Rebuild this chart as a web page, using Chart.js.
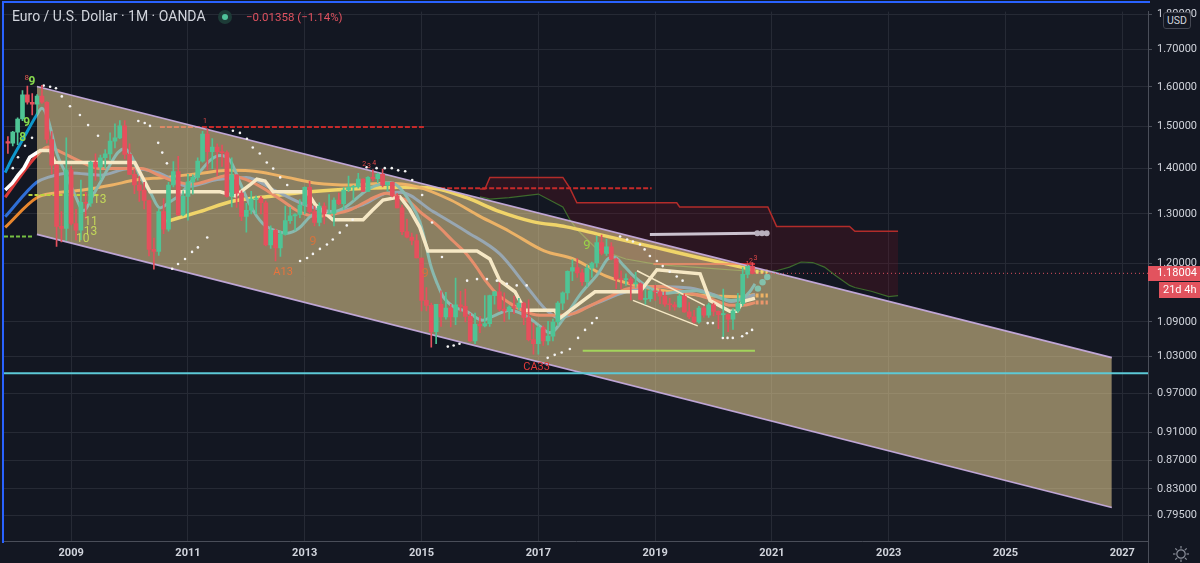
<!DOCTYPE html>
<html><head><meta charset="utf-8">
<script src="https://cdn.jsdelivr.net/npm/chart.js@4.4.0/dist/chart.umd.min.js"></script>
<style>
html,body{margin:0;padding:0;background:#131722;overflow:hidden;}
#wrap{position:relative;width:1200px;height:563px;background:#131722;}
canvas{display:block;position:absolute;left:0;top:0;}
#frame{position:absolute;left:2px;top:1px;width:1146px;height:540px;border-left:2px solid #2962ff;border-top:2px solid #2962ff;pointer-events:none;}
#ttl{position:absolute;left:12px;top:8px;font:14px Roboto,'Open Sans',sans-serif;color:#d1d4dc;white-space:nowrap;}
#dot{position:absolute;left:218px;top:10px;width:14px;height:14px;border-radius:50%;background:#1d3b37;}
#dot i{position:absolute;left:4px;top:4px;width:6px;height:6px;border-radius:50%;background:#4fc39a;}
#chg{position:absolute;left:246px;top:10px;font:11.5px Roboto,'Open Sans',sans-serif;color:#e0525f;white-space:nowrap;}
#usd{position:absolute;left:1163px;top:12px;width:26px;height:15px;border:1px solid #434651;border-radius:3px;background:#131722;font:10.5px Roboto,sans-serif;color:#d1d4dc;text-align:center;line-height:15px;}
#gear{position:absolute;left:1172px;top:545px;}
</style></head><body>
<div id="wrap">
<canvas id="c" width="1200" height="563"></canvas>
<div id="frame"></div>
<div id="ttl">Euro / U.S. Dollar · 1M · OANDA</div>
<div id="dot"><i></i></div>
<div id="chg">−0.01358 (−1.14%)</div>
<div id="usd">USD</div>
<svg id="gear" width="18" height="18" viewBox="0 0 18 18"><circle cx="9" cy="9" r="4.2" fill="none" stroke="#8a8e99" stroke-width="1.2"/><g stroke="#8a8e99" stroke-width="1.2"><line x1="9" y1="1" x2="9" y2="3.5"/><line x1="9" y1="14.5" x2="9" y2="17"/><line x1="1" y1="9" x2="3.5" y2="9"/><line x1="14.5" y1="9" x2="17" y2="9"/><line x1="3.3" y1="3.3" x2="5.1" y2="5.1"/><line x1="12.9" y1="12.9" x2="14.7" y2="14.7"/><line x1="3.3" y1="14.7" x2="5.1" y2="12.9"/><line x1="12.9" y1="5.1" x2="14.7" y2="3.3"/></g></svg>
</div>
<script>
// ---------- tick labels ----------
const yTickValues = [0.795,0.83,0.87,0.91,0.97,1.03,1.09,1.2,1.3,1.4,1.5,1.6,1.7,1.8];
const xTickYears = [2009,2011,2013,2015,2017,2019,2021,2023,2025,2027];
const lastPrice = 1.18004;
const firstCandle = 2007 + 11/12; // Dec 2007, monthly bars

// ---------- monthly OHLC (Dec 2007 .. Sep 2020) ----------
const opens = [1.4630,
1.4590,1.4860,1.5180,1.5790,1.5600,1.5550,1.5760,1.5600,1.4680,1.4080,1.2740,1.2700,
1.3970,1.2800,1.2660,1.3250,1.3230,1.4150,1.4030,1.4250,1.4340,1.4640,1.4720,1.5010,
1.4330,1.3870,1.3630,1.3510,1.3290,1.2270,1.2230,1.3050,1.2680,1.3630,1.3930,1.2980,
1.3380,1.3700,1.3800,1.4170,1.4810,1.4390,1.4500,1.4390,1.4370,1.3380,1.3860,1.3450,
1.2950,1.3080,1.3320,1.3340,1.3240,1.2360,1.2660,1.2300,1.2580,1.2860,1.2960,1.2990,
1.3190,1.3580,1.3050,1.2820,1.3170,1.3000,1.3010,1.3300,1.3220,1.3520,1.3580,1.3590,
1.3760,1.3490,1.3800,1.3770,1.3870,1.3630,1.3690,1.3390,1.3130,1.2630,1.2520,1.2450,
1.2100,1.1290,1.1200,1.0730,1.1220,1.0990,1.1150,1.0990,1.1210,1.1180,1.1000,1.0570,
1.0860,1.0830,1.0870,1.1380,1.1450,1.1130,1.1100,1.1170,1.1160,1.1240,1.0980,1.0590,
1.0520,1.0800,1.0570,1.0650,1.0900,1.1240,1.1430,1.1840,1.1910,1.1810,1.1640,1.1900,
1.2000,1.2410,1.2190,1.2320,1.2080,1.1690,1.1680,1.1690,1.1600,1.1600,1.1310,1.1320,
1.1470,1.1450,1.1370,1.1220,1.1210,1.1170,1.1370,1.1080,1.0990,1.0900,1.1150,1.1020,
1.1210,1.1090,1.1030,1.1030,1.0950,1.1100,1.1230,1.1780,1.1936];
const highs = [1.4750,
1.4880,1.5210,1.5900,1.6020,1.5820,1.5800,1.6040,1.5620,1.4870,1.4100,1.3050,1.4720,
1.4050,1.3100,1.3740,1.3470,1.4170,1.4340,1.4310,1.4440,1.4840,1.5060,1.5140,1.5140,
1.4580,1.3990,1.3820,1.3690,1.3300,1.2500,1.3110,1.3330,1.3690,1.4160,1.4280,1.3500,
1.3870,1.3860,1.4250,1.4880,1.4940,1.4700,1.4580,1.4550,1.4410,1.4250,1.3860,1.3500,
1.3230,1.3490,1.3390,1.3380,1.3280,1.2750,1.2690,1.2640,1.3170,1.3140,1.3010,1.3310,
1.3590,1.3710,1.3170,1.3240,1.3240,1.3420,1.3350,1.3450,1.3570,1.3830,1.3620,1.3890,
1.3770,1.3820,1.3970,1.3900,1.3990,1.3680,1.3700,1.3440,1.3190,1.2890,1.2600,1.2570,
1.2100,1.1530,1.1240,1.1210,1.1470,1.1440,1.1220,1.1710,1.1460,1.1500,1.1050,1.1060,
1.1000,1.1380,1.1390,1.1460,1.1620,1.1430,1.1190,1.1370,1.1330,1.1260,1.1300,1.0880,
1.0830,1.0830,1.0910,1.0950,1.1270,1.1450,1.1850,1.2070,1.2090,1.1880,1.1960,1.2020,
1.2540,1.2560,1.2480,1.2410,1.2100,1.1850,1.1790,1.1730,1.1820,1.1620,1.1500,1.1490,
1.1570,1.1490,1.1450,1.1330,1.1260,1.1410,1.1410,1.1250,1.1110,1.1180,1.1180,1.1240,
1.1240,1.1100,1.1500,1.1040,1.1140,1.1420,1.1910,1.1970,1.2011];
const lows = [1.4350,
1.4530,1.4560,1.5140,1.5550,1.5280,1.5300,1.5570,1.4590,1.3880,1.2330,1.2420,1.2450,
1.2770,1.2460,1.2460,1.2890,1.3160,1.3740,1.3750,1.4010,1.4200,1.4480,1.4700,1.4220,
1.3860,1.3440,1.3270,1.3110,1.2140,1.1880,1.2150,1.2590,1.2640,1.3590,1.2970,1.2960,
1.2870,1.3430,1.3740,1.4150,1.3970,1.4000,1.3840,1.4050,1.3360,1.3150,1.3140,1.2860,
1.2620,1.3000,1.3000,1.3000,1.2340,1.2290,1.2040,1.2130,1.2560,1.2800,1.2660,1.2920,
1.3000,1.3020,1.2750,1.2750,1.2790,1.3000,1.2750,1.3200,1.3100,1.3480,1.3300,1.3560,
1.3480,1.3480,1.3720,1.3680,1.3590,1.3500,1.3370,1.3130,1.2570,1.2500,1.2360,1.2100,
1.1100,1.1100,1.0460,1.0520,1.0820,1.0950,1.0810,1.0850,1.1090,1.0900,1.0560,1.0520,
1.0710,1.0810,1.0820,1.1220,1.1100,1.0910,1.0950,1.1050,1.1120,1.0850,1.0570,1.0340,
1.0340,1.0490,1.0500,1.0570,1.0840,1.1120,1.1310,1.1660,1.1720,1.1570,1.1550,1.1720,
1.1920,1.2160,1.2150,1.2060,1.1510,1.1510,1.1570,1.1300,1.1530,1.1300,1.1220,1.1270,
1.1290,1.1230,1.1180,1.1110,1.1110,1.1160,1.1070,1.0960,1.0880,1.0880,1.0980,1.0980,
1.1010,1.0780,1.0640,1.0730,1.0770,1.1070,1.1190,1.1710,1.1790];
const closes = [1.4590,
1.4860,1.5180,1.5790,1.5600,1.5550,1.5760,1.5600,1.4680,1.4080,1.2740,1.2700,1.3970,
1.2800,1.2660,1.3250,1.3230,1.4150,1.4030,1.4250,1.4340,1.4640,1.4720,1.5010,1.4330,
1.3870,1.3630,1.3510,1.3290,1.2270,1.2230,1.3050,1.2680,1.3630,1.3930,1.2980,1.3380,
1.3700,1.3800,1.4170,1.4810,1.4390,1.4500,1.4390,1.4370,1.3380,1.3860,1.3450,1.2950,
1.3080,1.3320,1.3340,1.3240,1.2360,1.2660,1.2300,1.2580,1.2860,1.2960,1.2990,1.3190,
1.3580,1.3050,1.2820,1.3170,1.3000,1.3010,1.3300,1.3220,1.3520,1.3580,1.3590,1.3760,
1.3490,1.3800,1.3770,1.3870,1.3630,1.3690,1.3390,1.3130,1.2630,1.2520,1.2450,1.2100,
1.1290,1.1200,1.0730,1.1220,1.0990,1.1150,1.0990,1.1210,1.1180,1.1000,1.0570,1.0860,
1.0830,1.0870,1.1380,1.1450,1.1130,1.1100,1.1170,1.1160,1.1240,1.0980,1.0590,1.0520,
1.0800,1.0570,1.0650,1.0900,1.1240,1.1430,1.1840,1.1910,1.1810,1.1640,1.1900,1.2000,
1.2410,1.2190,1.2320,1.2080,1.1690,1.1680,1.1690,1.1600,1.1600,1.1310,1.1320,1.1470,
1.1450,1.1370,1.1220,1.1210,1.1170,1.1370,1.1080,1.0990,1.0900,1.1150,1.1020,1.1210,
1.1090,1.1030,1.1030,1.0950,1.1100,1.1230,1.1780,1.1936,1.18004];

// ---------- moving averages ----------
const fastT = [2007.87,2008.0,2008.2,2008.41,2008.5,2008.6,2008.75,2008.9,2009.05,2009.22,2009.35,2009.5,2009.65,2009.8,2009.92,2010.05,2010.17,2010.35,2010.52,2010.69,2010.86,2011.03,2011.2,2011.38,2011.55,2011.72,2011.89,2012.06,2012.28,2012.5,2012.7,2012.9,2013.1,2013.3,2013.5,2013.7,2013.9,2014.1,2014.3,2014.48,2014.63,2014.8,2014.97,2015.06,2015.15,2015.27,2015.37,2015.54,2015.77,2016.05,2016.22,2016.51,2016.8,2017.02,2017.2,2017.46,2017.73,2018.02,2018.19,2018.3,2018.47,2018.64,2018.86,2019.15,2019.42,2019.7,2020.0,2020.3,2020.5,2020.62,2020.71];
const fastV = [1.391,1.426,1.475,1.528,1.545,1.519,1.437,1.391,1.345,1.307,1.335,1.369,1.405,1.437,1.446,1.424,1.385,1.348,1.313,1.326,1.341,1.367,1.392,1.419,1.430,1.419,1.369,1.320,1.28,1.265,1.26,1.27,1.295,1.305,1.305,1.315,1.335,1.355,1.365,1.368,1.356,1.326,1.284,1.244,1.198,1.160,1.136,1.118,1.109,1.093,1.100,1.111,1.100,1.083,1.071,1.100,1.142,1.179,1.208,1.212,1.194,1.174,1.155,1.142,1.145,1.147,1.138,1.129,1.133,1.145,1.160];
const midT = [2007.87,2008.41,2008.6,2008.8,2009.1,2009.5,2009.9,2010.2,2010.5,2010.8,2011.1,2011.4,2011.7,2012.0,2012.3,2012.6,2012.9,2013.2,2013.5,2013.8,2014.1,2014.4,2014.63,2014.8,2014.97,2015.26,2015.54,2015.77,2015.94,2016.11,2016.28,2016.51,2016.73,2017.02,2017.31,2017.6,2017.9,2018.2,2018.5,2018.8,2019.1,2019.4,2019.7,2020.0,2020.3,2020.5,2020.71];
const midV = [1.336,1.43,1.45,1.44,1.42,1.40,1.40,1.40,1.385,1.37,1.365,1.375,1.385,1.375,1.355,1.33,1.305,1.295,1.30,1.31,1.33,1.345,1.335,1.326,1.305,1.277,1.244,1.218,1.192,1.164,1.142,1.124,1.111,1.102,1.102,1.105,1.12,1.135,1.15,1.155,1.155,1.148,1.14,1.13,1.12,1.12,1.125];
const slowT = [2007.87,2008.41,2008.6,2009.0,2009.5,2010.0,2010.5,2011.0,2011.5,2012.0,2012.5,2013.0,2013.5,2014.0,2014.4,2014.63,2015.2,2015.77,2016.34,2016.8,2017.14,2017.37,2017.7,2018.0,2018.5,2019.0,2019.6,2020.0,2020.3,2020.71];
const slowV = [1.294,1.369,1.38,1.39,1.385,1.40,1.39,1.36,1.375,1.38,1.35,1.32,1.305,1.32,1.345,1.347,1.305,1.263,1.218,1.155,1.111,1.097,1.111,1.124,1.145,1.155,1.152,1.14,1.127,1.14];
const longT = [2007.87,2008.41,2008.7,2009.2,2009.7,2010.1,2010.6,2011.2,2011.7,2012.2,2012.7,2013.2,2013.8,2014.4,2014.9,2015.5,2016.0,2016.5,2017.1,2017.6,2018.15,2018.75,2019.3,2019.85,2020.45,2020.71];
const longV = [1.272,1.335,1.345,1.352,1.363,1.374,1.38,1.389,1.396,1.393,1.38,1.367,1.363,1.367,1.36,1.33,1.295,1.264,1.224,1.208,1.175,1.155,1.145,1.138,1.136,1.14];
const yellowT = [2010.63,2011.2,2011.78,2012.35,2012.9,2013.5,2014.1,2014.63,2015.2,2015.77,2016.34,2016.9,2017.48,2018.05,2019.0,2019.7,2020.4,2020.71];
const yellowV = [1.284,1.305,1.328,1.337,1.346,1.352,1.356,1.358,1.356,1.335,1.305,1.284,1.273,1.257,1.231,1.212,1.194,1.186];
const baseT = [2007.87,2007.99,2008.09,2008.19,2008.29,2008.47,2008.64,2008.72,2010.09,2010.35,2011.55,2011.81,2012.06,2012.18,2012.32,2012.46,2013.04,2013.18,2013.48,2014.0,2014.15,2014.34,2014.63,2014.8,2014.97,2015.11,2015.95,2016.17,2016.34,2016.6,2016.77,2017.28,2017.37,2017.71,2017.97,2018.74,2019.03,2019.77,2019.94,2020.28,2020.4,2020.5,2020.71];
const baseV = [1.352,1.367,1.385,1.401,1.426,1.442,1.442,1.414,1.414,1.348,1.348,1.339,1.363,1.376,1.372,1.348,1.348,1.320,1.288,1.288,1.307,1.330,1.337,1.309,1.272,1.224,1.224,1.208,1.166,1.145,1.111,1.111,1.097,1.124,1.145,1.145,1.187,1.179,1.129,1.109,1.109,1.127,1.133];

// ---------- ichimoku cloud ----------
const cloudT = [2016.0,2016.086,2016.17,2016.5,2017.0,2017.42,2017.54,2017.66,2018.0,2018.5,2019.0,2019.37,2019.42,2020.0,2020.5,2020.93,2021.08,2021.3,2021.5,2021.7,2021.9,2022.1,2022.33,2022.42,2022.7,2023.0,2023.16];
const spanB = [1.354,1.354,1.380,1.380,1.380,1.380,1.356,1.324,1.324,1.324,1.324,1.324,1.315,1.315,1.315,1.315,1.274,1.274,1.274,1.274,1.274,1.274,1.274,1.264,1.264,1.264,1.264];
const spanA = [1.337,1.335,1.332,1.335,1.343,1.315,1.288,1.268,1.228,1.208,1.198,1.194,1.194,1.189,1.185,1.183,1.185,1.192,1.202,1.201,1.192,1.175,1.157,1.153,1.146,1.136,1.138];

// ---------- parabolic SAR ----------
const sarT = [2008.0,2008.09,2008.21,2008.33,2008.53,2008.64,2008.74,2008.84,2008.98,2009.15,2009.29,2009.46,2010.15,2010.26,2010.35,2010.49,2010.56,2010.64,2010.73,2010.83,2010.95,2011.07,2011.17,2011.33,2011.77,2011.89,2012.01,2012.11,2012.23,2012.35,2012.46,2012.58,2012.7,2012.92,2013.04,2013.14,2013.26,2013.38,2013.48,2013.6,2013.72,2013.82,2014.06,2014.23,2014.37,2014.49,2014.6,2014.72,2014.84,2015.01,2015.18,2015.35,2015.45,2015.55,2015.65,2015.78,2015.95,2016.12,2016.29,2016.46,2016.63,2016.8,2017.16,2017.28,2017.4,2017.54,2017.68,2017.8,2017.92,2018.0,2018.4,2018.52,2018.62,2018.74,2018.82,2018.91,2019.03,2019.13,2019.25,2019.37,2019.47,2019.9,2019.99,2020.16,2020.24,2020.33,2020.49,2020.57,2020.66];
const sarV = [1.401,1.426,1.453,1.472,1.603,1.600,1.596,1.575,1.550,1.528,1.503,1.477,1.513,1.508,1.501,1.460,1.437,1.412,1.189,1.198,1.208,1.222,1.231,1.251,1.489,1.484,1.470,1.449,1.435,1.414,1.400,1.380,1.363,1.204,1.210,1.218,1.228,1.237,1.247,1.261,1.276,1.288,1.403,1.401,1.401,1.401,1.396,1.394,1.374,1.341,1.282,1.212,1.047,1.049,1.052,1.166,1.169,1.169,1.166,1.160,1.157,1.157,1.028,1.033,1.037,1.043,1.062,1.076,1.088,1.097,1.253,1.247,1.243,1.237,1.227,1.214,1.204,1.194,1.183,1.174,1.166,1.088,1.088,1.062,1.062,1.062,1.065,1.070,1.076];

// ---------- drawings ----------
const channelT = [2008.414, 2026.82];
const channelTop = [1.6006, 1.0284];
const channelBottom = [1.2575, 0.8053];
const level150 = {from:2010.52, to:2015.05, v:1.4985};
const level1356 = {from:2014.0, to:2018.94, v:1.356};
const level104 = {from:2017.76, to:2020.71, v:1.040};
const level1253 = {from:2007.85, to:2008.33, v:1.253};
const level1341 = {from:2008.27, to:2009.5, v:1.341};
const level1198 = {from:2018.97, to:2020.71, v:1.198};
const cyanLevel = 1.0023;
const greyT = [2018.91, 2020.71], greyV = [1.257, 1.260];
const greyDotT = [2020.75, 2020.83, 2020.91], greyDotV = [1.26, 1.26, 1.26];
const trend1T = [2018.69, 2019.85], trend1V = [1.185, 1.12];
const trend2T = [2018.62, 2019.73], trend2V = [1.129, 1.083];
const projT = [2020.76, 2020.84, 2020.92], projV = [1.151, 1.163, 1.173];
const stubT = [2020.72, 2020.93];
const stubYellow = 1.183, stubOrange = 1.138, stubRed = 1.125;

const labelTexts = ['9','8','9','8','13','11','10','13','A13','9','9','9','CA33','1','2','3','2','3','4','1'];
const labelT = [2008.33,2008.24,2008.24,2008.17,2009.49,2009.34,2009.2,2009.33,2012.63,2013.14,2015.06,2017.83,2016.97,2020.58,2020.64,2020.72,2014.02,2014.1,2014.19,2011.29];
const labelV = [1.613,1.622,1.508,1.472,1.330,1.284,1.249,1.262,1.183,1.243,1.179,1.235,1.012,1.198,1.204,1.21,1.41,1.405,1.413,1.512];

// ---------- styles ----------
const FONT = "Roboto, 'Open Sans', 'DejaVu Sans', sans-serif";
const UP = '#4fc495', DOWN = '#e5505d';
const labelStyle = [
 ['#86d94e',12,'bold'],['#e05a50',8,'normal'],['#86d94e',12,'bold'],['#86d94e',12,'bold'],
 ['#c3d85a',12,'normal'],['#c3d85a',12,'normal'],['#c3d85a',12,'normal'],['#c3d85a',12,'normal'],
 ['#e8743e',11,'normal'],['#d2743f',13,'normal'],['#d2743f',13,'normal'],['#9ad448',13,'normal'],
 ['#e23a3a',11,'normal'],['#e04848',7,'normal'],['#e04848',7,'normal'],['#e04848',7,'normal'],
 ['#e04848',7,'normal'],['#e04848',7,'normal'],['#e04848',7,'normal'],['#e04848',7,'normal']];

const pts = (ts, vs) => ts.map((t, i) => ({x: t, y: vs[i]}));
const seg = (o) => [{x:o.from, y:o.v}, {x:o.to, y:o.v}];
const candleT = opens.map((_, i) => firstCandle + i / 12);
const isUp = i => closes[i] >= opens[i];

function line(data, color, width, order, extra) {
  return Object.assign({type:'line', data, borderColor:color, borderWidth:width, pointRadius:0,
    pointHoverRadius:0, fill:false, tension:0, order}, extra || {});
}
const smooth = {cubicInterpolationMode:'monotone'};

const datasets = [
  line(pts(cloudT, spanB), '#b32c2a', 1.5, 95, {fill:'+1', backgroundColor:'rgba(120,18,32,0.24)'}),
  line(pts(cloudT, spanA), '#3e6a2c', 1.2, 94),
  line(seg(level150), '#c62a2a', 2, 90, {borderDash:[5,2]}),
  line(seg(level1356), '#c62a2a', 2, 90, {borderDash:[5,2]}),
  line(pts(yellowT, yellowV), '#f2d234', 3.5, 70, smooth),
  line(pts(longT, longV), '#e8872e', 3, 69, smooth),
  line(pts(slowT, slowV), '#2f6fd6', 3, 68, smooth),
  line(pts(midT, midV), '#dd3b3b', 3, 67, smooth),
  line(pts(fastT, fastV), '#0e97cc', 3, 66, smooth),
  line(pts(baseT, baseV), '#ffffff', 3.5, 65),
  line(pts(trend1T, trend1V), '#ffffff', 1.5, 64),
  line(pts(trend2T, trend2V), '#ffffff', 1.5, 64),
  line(seg(level1198), '#ff3434', 1.5, 63),
  line([{x:stubT[0],y:stubYellow},{x:stubT[1],y:stubYellow}], '#f2d234', 4, 62, {borderDash:[3,2]}),
  line([{x:stubT[0],y:stubOrange},{x:stubT[1],y:stubOrange}], '#f08a2a', 4, 62, {borderDash:[3,2]}),
  line([{x:stubT[0],y:stubRed},{x:stubT[1],y:stubRed}], '#e84a3a', 4, 62, {borderDash:[3,2]}),
  line(pts(projT, projV), '#00a8c8', 0, 61, {showLine:false, pointRadius:3.2, pointBackgroundColor:'#00a8c8', pointBorderWidth:0}),
  line(pts(channelT, channelTop), 'rgba(198,172,222,0.95)', 1.6, 50, {fill:'+1', backgroundColor:'rgba(239,214,150,0.55)'}),
  line(pts(channelT, channelBottom), 'rgba(198,172,222,0.95)', 1.6, 49),
  line([{x:2007.85,y:cyanLevel},{x:2027.44,y:cyanLevel}], '#5cc9d6', 2, 30),
  line(seg(level104), '#a3d45c', 2, 29),
  line(seg(level1253), '#76c043', 2, 29, {borderDash:[4,2]}),
  line(seg(level1341), '#bcd23c', 2, 29, {borderDash:[4,2]}),
  line(pts(greyT, greyV), '#cbc2cf', 3, 28),
  line(pts(greyDotT, greyDotV), '#b9b0bd', 0, 28, {showLine:false, pointRadius:3, pointBackgroundColor:'#b9b0bd', pointBorderWidth:0}),
  line([{x:2020.71,y:lastPrice},{x:2027.44,y:lastPrice}], '#e0525f', 1, 27, {borderDash:[1,3]}),
  line(pts(sarT, sarV), '#ffffff', 0, 25, {showLine:false, pointRadius:1.3, pointBackgroundColor:'#f4f4f4', pointBorderWidth:0}),
  {type:'bar', order:11, grouped:false, barThickness:1, minBarLength:1,
   data: candleT.map((t,i)=>({x:t, y:[lows[i], highs[i]]})),
   backgroundColor: c => isUp(c.dataIndex||0) ? UP : DOWN},
  {type:'bar', order:10, grouped:false, barThickness:4, minBarLength:1,
   data: candleT.map((t,i)=>({x:t, y:[Math.min(opens[i],closes[i]), Math.max(opens[i],closes[i])]})),
   backgroundColor: c => isUp(c.dataIndex||0) ? UP : DOWN}
];

const annot = {
  id:'annot',
  afterDatasetsDraw(chart){
    const {ctx, scales:{x, y}} = chart;
    ctx.save();
    ctx.beginPath(); ctx.rect(chart.chartArea.left, chart.chartArea.top, chart.chartArea.right-chart.chartArea.left, chart.chartArea.bottom-chart.chartArea.top); ctx.clip();
    ctx.textAlign='center'; ctx.textBaseline='middle';
    labelTexts.forEach((txt,i)=>{
      const st = labelStyle[i];
      ctx.fillStyle = st[0]; ctx.font = st[2]+' '+st[1]+'px '+FONT;
      ctx.fillText(txt, x.getPixelForValue(labelT[i]), y.getPixelForValue(labelV[i]));
    });
    ctx.restore();
  },
  afterDraw(chart){
    const {ctx, chartArea:a, scales:{y}} = chart;
    const py = Math.round(y.getPixelForValue(lastPrice));
    ctx.save();
    ctx.strokeStyle='#4a4e59'; ctx.lineWidth=1;
    ctx.beginPath(); ctx.moveTo(a.right+0.5, a.bottom); ctx.lineTo(a.right+0.5, 563); ctx.stroke();
    ctx.fillStyle='#e2535e';
    ctx.fillRect(a.right, py-7, 52, 15);
    ctx.fillRect(a.right+11, py+9, 41, 16);
    ctx.fillStyle='#ffffff'; ctx.font='11px '+FONT; ctx.textBaseline='middle'; ctx.textAlign='left';
    ctx.fillText(lastPrice.toFixed(5), a.right+9, py+0.5);
    ctx.fillText('21d 4h', a.right+15, py+17.5);
    ctx.restore();
  }
};

new Chart(document.getElementById('c'), {
  type:'line',
  data:{datasets},
  options:{
    responsive:false, animation:false, devicePixelRatio:1,
    layout:{padding:{left:4, top:4, right:0, bottom:0}},
    plugins:{legend:{display:false}, tooltip:{enabled:false}},
    events:[],
    scales:{
      x:{type:'linear', min:2007.85, max:2027.44, offset:false,
         afterBuildTicks: s => { s.ticks = xTickYears.map(v=>({value:v})); },
         afterFit: s => { s.height = 22; },
         ticks:{callback: v => String(v), color:'#d1d4dc', font:{family:FONT, size:11, weight:'bold'}, maxRotation:0, autoSkip:false, padding:6},
         grid:{color:'#262a35', drawTicks:false, offset:false}, border:{color:'#4a4e59'}},
      y:{type:'logarithmic', position:'right', min:0.7624, max:1.8088,
         afterBuildTicks: s => { s.ticks = yTickValues.map(v=>({value:v})); },
         afterFit: s => { s.width = 52; },
         ticks:{callback: v => Number(v).toFixed(5), color:'#d1d4dc', font:{family:FONT, size:11}, autoSkip:false, padding:5},
         grid:{color:'#262a35', tickLength:4, tickColor:'#4a4e59'}, border:{color:'#4a4e59'}}
    }
  },
  plugins:[annot]
});
</script>
</body></html>
